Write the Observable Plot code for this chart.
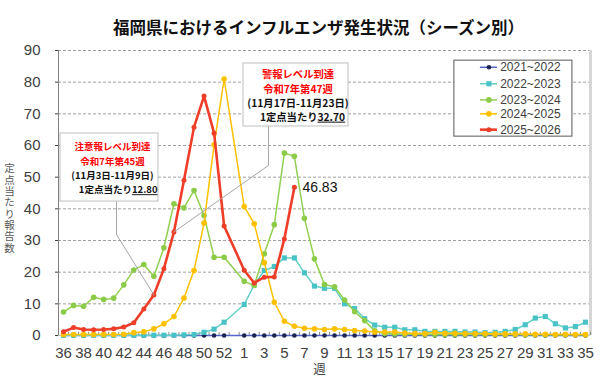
<!DOCTYPE html>
<html><head><meta charset="utf-8">
<script src="https://cdn.jsdelivr.net/npm/d3@7"></script>
<script src="https://cdn.jsdelivr.net/npm/@observablehq/plot@0.6"></script>
<style>
body{margin:0;background:#fff}
.ul text{text-decoration:underline}
.vt text{writing-mode:vertical-rl;text-orientation:upright;letter-spacing:0.8px}
</style>
</head><body><div id="chart"></div>
<script>
// Week axis (season runs from week 36 to week 35; week 53 slot exists)
const weeks = [36,37,38,39,40,41,42,43,44,45,46,47,48,49,50,51,52,53,
  1,2,3,4,5,6,7,8,9,10,11,12,13,14,15,16,17,18,19,20,21,22,23,24,25,26,27,28,29,30,31,32,33,34,35];
const seasons = ["2021~2022","2022~2023","2023~2024","2024~2025","2025~2026"];
const yTicks = [0,10,20,30,40,50,60,70,80,90];

const s2021 = [0,0,0,0,0,0,0,0,0,0,0,0,0,0,0,0,0,null,
  0,0,0,0,0,0,0,0,0,0,0,0,0,0,0,0,0,0,0,0,0,0,0,0,0,0,0,0,0,0,0,0,0,0,0];
const s2022 = [0.1,0.1,0.1,0.1,0.1,0.1,0.1,0.1,0.1,0.1,0.1,0.1,0.2,0.3,1.0,2.0,4.2,null,
  9.8,16.0,20.5,21.8,24.5,24.5,19.8,15.6,14.9,14.9,10.0,8.5,5.3,3.3,2.6,2.6,1.8,1.8,1.3,1.3,
  1.3,1.3,1.1,1.1,0.9,1.0,1.3,1.9,3.4,5.5,6.0,3.7,2.4,2.8,4.2];
const s2023 = [7.4,9.5,9.2,12.1,11.4,11.8,16.0,20.7,22.4,18.7,27.7,41.6,40.3,45.8,37.9,24.7,24.7,null,
  17.1,15.8,25.8,35.0,57.6,56.6,37.0,24.2,16.1,15.4,11.2,7.5,4.7,1.5,0.6,0.5,0.4,0.4,0.3,0.3,
  0.3,0.3,0.3,0.3,0.3,0.3,0.3,0.3,0.2,0.2,0.2,0.2,0.2,0.2,0.2];
const s2024 = [0.3,0.3,0.3,0.3,0.3,0.3,0.4,0.9,1.2,2.1,3.7,6.0,11.8,20.5,35.5,60.2,81.0,null,
  40.7,35.3,23.0,10.5,4.5,2.9,2.3,2.1,1.9,2.1,1.9,1.6,1.4,1.1,1.1,1.1,0.8,0.6,0.6,1.0,
  0.7,0.7,0.6,0.6,0.6,0.5,0.5,0.5,0.5,0.4,0.4,0.3,0.4,0.3,0.3];
const s2025 = [1.2,2.5,1.9,1.8,1.9,2.1,2.7,4.0,8.4,12.8,21.1,32.7,49.0,65.8,75.6,63.9,34.6,null,
  20.6,16.6,18.4,18.5,30.5,46.83];

const seriesValues = [s2021, s2022, s2023, s2024, s2025];
const style = [
  {line:"#5566c4", mark:"#1e2452", sym:"circle", r:2.3, w:1.5},
  {line:"#62d0c8", mark:"#48c2c6", sym:"square", r:2.9, w:1.5},
  {line:"#92d050", mark:"#8ccb48", sym:"circle", r:2.8, w:1.5},
  {line:"#ffc000", mark:"#ffc000", sym:"circle", r:2.8, w:1.5},
  {line:"#ee3d28", mark:"#ee3d28", sym:"circle", r:2.5, w:2.6}
];

const rows = [];
seriesValues.forEach((arr, k) => arr.forEach((v, i) => { if (v != null) rows.push({k, season: seasons[k], i, v}); }));

// annotations (placed in data units)
const notes = [
  {box:[-0.3, 9.46, 63.8, 42.3], cx:4.88, split:6.82, ys:[59.4,54.8,50.4,45.9], fs:9.5,
   l1:"注意報レベル到達", l2:"令和7年第45週", l3:"(11月3日-11月9日)", l4a:"1定点当たり", l4b:"12.80",
   leader:[[5.28,42.3],[5.28,31.9],[9,12.8]]},
  {box:[17.93, 28.39, 85.9, 66.0], cx:23.36, split:25.3, ys:[82.2,77.7,73.3,68.9], fs:10.3,
   l1:"警報レベル到達", l2:"令和7年第47週", l3:"(11月17日-11月23日)", l4a:"1定点当たり", l4b:"32.70",
   leader:[[20.42,66.0],[20.42,53.7],[11,32.7]]}
];
const legendLayout = {box:[38.94, 50.7, 86.8, 62.8], x1:41.53, x2:43.23, xm:42.38, xt:43.5, ys:[84.7,79.5,74.4,70.0,65.0]};
const legendRows = seasons.map((s, k) => ({s, k, y: legendLayout.ys[k]}));

const yTitle = "定点当たり報告数";

const cjk = "'Noto Sans CJK JP', 'Noto Sans', sans-serif";
const narrow = "'Liberation Sans Narrow', 'Liberation Sans', Arial, sans-serif";

const marks = [
  Plot.ruleY(yTicks.filter(d => d > 0), {y: d => d, stroke: "#a0a0a0", strokeDasharray: "3,2"}),
  Plot.ruleY([0], {stroke: "#bfbfbf"}),
  Plot.ruleX([-0.5], {stroke: "#7f7f7f"}),
  Plot.ruleX([52.5], {stroke: "#d6d6d6", strokeWidth: 3}),
  Plot.ruleX(weeks.map((w, i) => i + 0.5), {x: d => d, y1: 0, y2: 1, stroke: "#8c8c8c"}),
  Plot.axisY(yTicks, {tickSize: 3, tickPadding: 15, fontSize: 15, label: null, color: "#404040", fontFamily: narrow}),
  Plot.axisX(weeks.map((w, i) => i).filter(i => i % 2 === 0), {tickFormat: i => weeks[i], tickSize: 0, tickPadding: 12, fontSize: 15, label: null, color: "#404040", fontFamily: narrow}),
  Plot.text(["週"], {frameAnchor: "bottom", dx: -5, dy: 38.5, fontSize: 12.5, fill: "#404040", fontFamily: cjk}),
  Plot.text([yTitle], {frameAnchor: "left", dx: -49, dy: 12, textAnchor: "middle", fontSize: 10.5, fill: "#595959", fontFamily: cjk, className: "vt"}),
  Plot.text(["福岡県におけるインフルエンザ発生状況（シーズン別）"], {frameAnchor: "top", dx: -6, dy: -28, fontSize: 16.5, fontWeight: "bold", fill: "#111", fontFamily: cjk})
];

style.forEach((st, k) => {
  const d = rows.filter(r => r.k === k);
  marks.push(Plot.line(d, {x: "i", y: "v", stroke: st.line, strokeWidth: st.w}));
  marks.push(Plot.dot(d, {x: "i", y: "v", symbol: st.sym, r: st.r, fill: st.mark, stroke: "none"}));
});

const lastRed = rows.filter(r => r.k === 4).slice(-1);
marks.push(Plot.text(lastRed, {x: "i", y: "v", text: d => d3.format(".2f")(d.v), dx: 8, textAnchor: "start", fontSize: 14, fill: "#111", fontFamily: "'Liberation Sans', Arial, sans-serif"}));

notes.forEach(n => {
  marks.push(Plot.line(n.leader, {x: d => d[0], y: d => d[1], stroke: "#a6a6a6", strokeWidth: 1}));
  marks.push(Plot.rect([n], {x1: d => d.box[0], x2: d => d.box[1], y1: d => d.box[2], y2: d => d.box[3], fill: "white", stroke: "#bfbfbf"}));
  const common = {fontSize: n.fs, fontWeight: "bold", fontFamily: cjk};
  marks.push(Plot.text([n], {x: "cx", y: d => d.ys[0], text: "l1", fill: "#ff0000", ...common}));
  marks.push(Plot.text([n], {x: "cx", y: d => d.ys[1], text: "l2", fill: "#ff0000", ...common}));
  marks.push(Plot.text([n], {x: "cx", y: d => d.ys[2], text: "l3", fill: "#111", ...common}));
  marks.push(Plot.text([n], {x: "split", y: d => d.ys[3], text: "l4a", fill: "#111", textAnchor: "end", ...common}));
  marks.push(Plot.text([n], {x: "split", y: d => d.ys[3], text: "l4b", fill: "#111", textAnchor: "start", className: "ul", ...common}));
});

marks.push(Plot.rect([legendLayout], {x1: d => d.box[0], x2: d => d.box[1], y1: d => d.box[2], y2: d => d.box[3], fill: "white", stroke: "#595959"}));
style.forEach((st, k) => {
  const d = legendRows.filter(r => r.k === k);
  marks.push(Plot.ruleY(d, {y: "y", x1: legendLayout.x1, x2: legendLayout.x2, stroke: st.line, strokeWidth: st.w}));
  marks.push(Plot.dot(d, {x: legendLayout.xm, y: "y", symbol: st.sym, r: st.r, fill: st.mark, stroke: "none"}));
});
marks.push(Plot.text(legendRows, {x: legendLayout.xt, y: "y", text: "s", textAnchor: "start", fontSize: 12, fill: "#404040", fontFamily: narrow}));

const chart = Plot.plot({
  width: 600, height: 379,
  marginTop: 50, marginBottom: 44, marginLeft: 58, marginRight: 10,
  x: {type: "linear", domain: [-0.5, 52.5], axis: null},
  y: {domain: [0, 90], axis: null},
  style: {background: "#fff", fontFamily: narrow, overflow: "visible"},
  marks
});
document.getElementById("chart").appendChild(chart);
</script>
</body></html>
